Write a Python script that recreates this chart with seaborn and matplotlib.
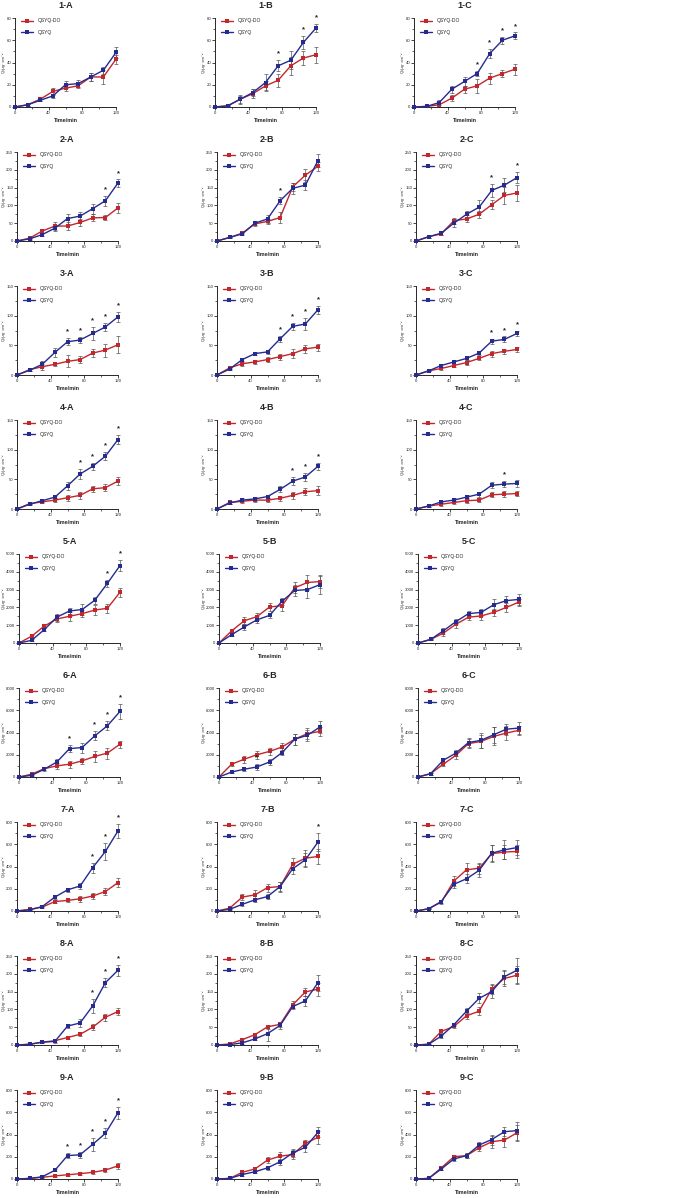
import matplotlib
matplotlib.use("Agg")
import matplotlib.pyplot as plt
import seaborn as sns
import pandas as pd
from matplotlib.ticker import MultipleLocator

# ---------------- data ----------------
time_min = [0, 15, 30, 45, 60, 75, 90, 105, 120]
series_names = ["QSYQ-DO", "QSYQ"]
row_ymax = [80, 250, 150, 150, 5000, 8000, 800, 250, 800]
row_ystep = [20, 50, 50, 50, 1000, 2000, 200, 50, 200]
col_letters = ["A", "B", "C"]

# 1
do_1A = [0, 2, 7, 14, 17, 19, 27, 27, 43];        do_1A_err = [0, 1, 2, 3, 3, 2, 4, 6, 4]
q_1A = [0, 2, 6, 10, 20, 21, 27, 33, 49];         q_1A_err = [0, 1, 1, 2, 3, 3, 4, 3, 5]
star_1A = []
do_1B = [0, 1, 7, 12, 19, 24, 37, 44, 47];        do_1B_err = [0, 0.5, 4, 4, 4, 6, 8, 6, 7]
q_1B = [0, 1, 7, 13, 22, 37, 42, 58, 71];         q_1B_err = [0, 0.5, 3, 3, 8, 5, 8, 6, 4]
star_1B = [75, 105, 120]
do_1C = [0, 0.5, 2, 8, 16, 19, 26, 30, 34];       do_1C_err = [0, 0.5, 2, 3, 3, 6, 5, 3, 5]
q_1C = [0, 0.5, 4, 16, 23, 30, 48, 60, 64];       q_1C_err = [0, 0.5, 2, 3, 4, 2, 4, 3, 3]
star_1C = [75, 90, 105, 120]
# 2
do_2A = [0, 8, 28, 42, 42, 52, 65, 66, 93];       do_2A_err = [0, 2, 5, 12, 10, 10, 10, 8, 15]
q_2A = [0, 6, 18, 36, 63, 70, 91, 113, 163];      q_2A_err = [0, 2, 4, 8, 14, 12, 14, 14, 10]
star_2A = [105, 120]
do_2B = [0, 10, 22, 48, 55, 66, 152, 185, 210];   do_2B_err = [0, 2, 3, 6, 8, 16, 12, 18, 12]
q_2B = [0, 10, 20, 50, 62, 113, 148, 157, 226];   q_2B_err = [0, 2, 3, 5, 12, 10, 15, 15, 18]
star_2B = [75]
do_2C = [0, 12, 20, 57, 62, 75, 102, 128, 135];   do_2C_err = [0, 3, 4, 8, 10, 10, 12, 25, 22]
q_2C = [0, 12, 22, 50, 75, 95, 142, 157, 178];    q_2C_err = [0, 3, 4, 12, 10, 20, 17, 20, 15]
star_2C = [90, 120]
# 3
do_3A = [0, 9, 14, 18, 23, 26, 37, 42, 51];       do_3A_err = [0, 2, 5, 3, 10, 6, 7, 11, 14]
q_3A = [0, 8, 18, 38, 56, 59, 70, 81, 98];        q_3A_err = [0, 2, 5, 7, 6, 5, 11, 7, 8]
star_3A = [60, 75, 90, 105, 120]
do_3B = [0, 12, 19, 22, 26, 31, 36, 44, 47];      do_3B_err = [0, 2, 3, 4, 4, 5, 8, 7, 6]
q_3B = [0, 10, 26, 36, 39, 61, 82, 86, 110];      q_3B_err = [0, 2, 2, 3, 3, 5, 6, 10, 7]
star_3B = [75, 90, 105, 120]
do_3C = [0, 7, 11, 16, 21, 28, 36, 40, 43];       do_3C_err = [0, 1, 3, 3, 4, 3, 5, 4, 4]
q_3C = [0, 7, 16, 22, 28, 37, 57, 60, 70];        q_3C_err = [0, 1, 3, 3, 3, 3, 4, 5, 4]
star_3C = [90, 105, 120]
# 4
do_4A = [0, 9, 12, 15, 19, 23, 34, 36, 47];       do_4A_err = [0, 1, 2, 3, 5, 6, 5, 6, 7]
q_4A = [0, 8, 14, 20, 39, 59, 72, 89, 117];       q_4A_err = [0, 1, 2, 2, 7, 9, 6, 7, 8]
star_4A = [75, 90, 105, 120]
do_4B = [0, 11, 13, 15, 15, 18, 23, 29, 31];      do_4B_err = [0, 2, 3, 3, 4, 4, 6, 6, 7]
q_4B = [0, 10, 15, 17, 21, 33, 47, 54, 72];       q_4B_err = [0, 2, 3, 3, 3, 5, 7, 7, 6]
star_4B = [90, 105, 120]
do_4C = [0, 5, 8, 11, 14, 15, 24, 25, 26];        do_4C_err = [0, 1, 3, 3, 4, 3, 4, 5, 4]
q_4C = [0, 5, 12, 15, 20, 25, 40, 42, 43];        q_4C_err = [0, 1, 2, 3, 3, 4, 5, 5, 6]
star_4C = [105]
# 5
do_5A = [0, 380, 950, 1350, 1500, 1650, 1850, 1950, 2850]
do_5A_err = [0, 60, 100, 150, 250, 200, 300, 250, 250]
q_5A = [0, 150, 750, 1450, 1800, 1880, 2400, 3350, 4350]
q_5A_err = [0, 50, 100, 200, 150, 300, 200, 200, 300]
star_5A = [105, 120]
do_5B = [0, 680, 1250, 1480, 2020, 2100, 3100, 3400, 3450]
do_5B_err = [0, 100, 200, 200, 200, 300, 300, 400, 350]
q_5B = [0, 470, 900, 1300, 1550, 2350, 2950, 3000, 3280]
q_5B_err = [0, 100, 150, 200, 150, 200, 300, 450, 500]
star_5B = []
do_5C = [0, 200, 550, 1050, 1450, 1520, 1720, 2000, 2300]
do_5C_err = [0, 50, 150, 200, 150, 200, 200, 250, 200]
q_5C = [0, 200, 680, 1200, 1650, 1720, 2150, 2380, 2450]
q_5C_err = [0, 50, 150, 150, 150, 200, 350, 250, 300]
star_5C = []
# 6
do_6A = [0, 250, 750, 1000, 1150, 1450, 1850, 2150, 2950]
do_6A_err = [0, 100, 150, 250, 300, 300, 500, 500, 300]
q_6A = [0, 150, 700, 1350, 2550, 2650, 3700, 4600, 5900]
q_6A_err = [0, 100, 150, 300, 300, 450, 400, 400, 700]
star_6A = [60, 90, 105, 120]
do_6B = [0, 1150, 1600, 2000, 2300, 2700, 3400, 3900, 4100]
do_6B_err = [0, 150, 300, 350, 300, 400, 500, 500, 400]
q_6B = [0, 450, 700, 900, 1350, 2200, 3400, 3750, 4500]
q_6B_err = [0, 100, 150, 250, 300, 200, 500, 500, 500]
star_6B = [45]
do_6C = [0, 300, 1150, 1950, 3000, 3200, 3650, 3950, 4200]
do_6C_err = [0, 100, 200, 300, 400, 600, 800, 600, 400]
q_6C = [0, 300, 1500, 2150, 3100, 3300, 3800, 4300, 4400]
q_6C_err = [0, 100, 200, 300, 400, 700, 700, 500, 500]
star_6C = []
# 7
do_7A = [0, 15, 35, 85, 95, 110, 135, 175, 255];      do_7A_err = [0, 5, 8, 15, 15, 25, 30, 30, 40]
q_7A = [0, 10, 40, 125, 190, 225, 390, 535, 720];     q_7A_err = [0, 5, 8, 15, 20, 30, 45, 75, 65]
star_7A = [90, 105, 120]
do_7B = [0, 25, 125, 145, 210, 220, 420, 475, 490];   do_7B_err = [0, 8, 25, 40, 35, 45, 55, 70, 70]
q_7B = [0, 15, 60, 100, 130, 220, 380, 460, 620];     q_7B_err = [0, 5, 15, 20, 25, 40, 45, 60, 80]
star_7B = [120]
do_7C = [0, 20, 80, 270, 370, 385, 515, 530, 535];    do_7C_err = [0, 5, 15, 45, 65, 50, 75, 65, 55]
q_7C = [0, 20, 85, 240, 290, 365, 520, 550, 570];     q_7C_err = [0, 5, 15, 30, 40, 60, 75, 85, 65]
star_7C = []
# 8
do_8A = [0, 2, 8, 12, 21, 30, 50, 78, 94];            do_8A_err = [0, 1, 2, 3, 5, 6, 8, 10, 10]
q_8A = [0, 2, 8, 10, 53, 62, 110, 175, 210];          q_8A_err = [0, 1, 2, 3, 5, 12, 20, 13, 15]
star_8A = [90, 105, 120]
do_8B = [0, 3, 15, 29, 51, 58, 113, 149, 157];        do_8B_err = [0, 1, 3, 5, 5, 8, 10, 12, 18]
q_8B = [0, 1, 6, 17, 32, 55, 108, 124, 175];          q_8B_err = [0, 1, 2, 4, 20, 10, 8, 15, 22]
star_8B = []
do_8C = [0, 2, 38, 52, 82, 95, 157, 187, 196];        do_8C_err = [0, 1, 5, 5, 8, 12, 15, 20, 25]
q_8C = [0, 2, 25, 57, 95, 131, 150, 192, 210];        q_8C_err = [0, 1, 4, 5, 8, 14, 18, 20, 35]
star_8C = []
# 9
do_9A = [0, 5, 15, 28, 38, 48, 60, 80, 118];          do_9A_err = [0, 3, 5, 8, 10, 15, 15, 20, 25]
q_9A = [0, 5, 20, 78, 210, 218, 312, 410, 595];       q_9A_err = [0, 3, 5, 10, 25, 25, 60, 45, 55]
star_9A = [60, 75, 90, 105, 120]
do_9B = [0, 5, 60, 90, 170, 205, 220, 320, 375];      do_9B_err = [0, 3, 10, 15, 25, 35, 40, 35, 60]
q_9B = [0, 5, 40, 65, 100, 155, 235, 285, 420];       q_9B_err = [0, 3, 10, 10, 15, 25, 35, 40, 45]
star_9B = []
do_9C = [0, 5, 100, 200, 210, 280, 335, 350, 415];    do_9C_err = [0, 3, 15, 20, 20, 25, 55, 60, 70]
q_9C = [0, 5, 90, 180, 210, 305, 355, 425, 435];      q_9C_err = [0, 3, 10, 15, 20, 30, 45, 40, 80]
star_9C = []

# ---------------- style ----------------
sns.set_style("ticks")
plt.rcParams["font.family"] = ["Liberation Sans", "DejaVu Sans"]

colors = {"QSYQ-DO": "#C1272D", "QSYQ": "#252B8F"}

W, H = 675, 1198
fig = plt.figure(figsize=(W / 100, H / 100), dpi=100)

col_left = [0, 200, 399]
row_left_off = [15, 17, 17, 17, 19, 19, 17, 17, 17]
ax_w, ax_h = 101, 89
row_top0, row_pitch = 18, 134

g = globals()
for r in range(9):
    for c in range(3):
        key = f"{r+1}{col_letters[c]}"
        do_v, do_e = g[f"do_{key}"], g[f"do_{key}_err"]
        q_v, q_e = g[f"q_{key}"], g[f"q_{key}_err"]
        stars = g[f"star_{key}"]
        top = row_top0 + r * row_pitch
        left = col_left[c] + row_left_off[r]
        ax = fig.add_axes([left / W, 1 - (top + ax_h) / H, ax_w / W, ax_h / H])
        df = pd.DataFrame({
            "time": time_min * 2,
            "value": list(do_v) + list(q_v),
            "err": list(do_e) + list(q_e),
            "group": ["QSYQ-DO"] * 9 + ["QSYQ"] * 9,
        })
        for name in series_names:
            sub = df[df["group"] == name]
            ax.errorbar(sub["time"], sub["value"], yerr=sub["err"], fmt="none",
                        ecolor="#555555", elinewidth=0.5, capsize=1.3, capthick=0.5,
                        zorder=2, clip_on=False)
        sns.lineplot(data=df, x="time", y="value", hue="group", hue_order=series_names,
                     palette=colors, marker="s", markersize=2.6, markeredgewidth=0,
                     linewidth=1.0, ax=ax, zorder=3, clip_on=False)
        for t in stars:
            i = time_min.index(t)
            ypos = q_v[i] + q_e[i] + row_ymax[r] * 0.03
            ax.text(t, ypos, "*", ha="center", va="bottom", fontsize=5.5,
                    fontweight="bold", color="#222222")
        ax.set_xlim(0, 120)
        ax.set_ylim(0, row_ymax[r])
        ax.xaxis.set_major_locator(MultipleLocator(40))
        ax.xaxis.set_minor_locator(MultipleLocator(20))
        ax.yaxis.set_major_locator(MultipleLocator(row_ystep[r]))
        ax.yaxis.set_minor_locator(MultipleLocator(row_ystep[r] / 2))
        ax.tick_params(which="major", labelsize=3.1, length=2, width=0.6, pad=0.8)
        ax.tick_params(which="minor", length=1.3, width=0.5)
        for s in ["left", "bottom"]:
            ax.spines[s].set_linewidth(0.7)
        sns.despine(ax=ax)
        ax.set_xlabel("Time/min", fontsize=4, fontweight="bold", labelpad=2)
        ax.set_ylabel("Q/μg· cm⁻²", fontsize=3.0)
        # right edge of the rotated label ~6.3 px from the panel's column edge
        ax.yaxis.set_label_coords(-(left - col_left[c] - 6.3) / ax_w, 0.5)
        ax.set_title(f"{r+1}-{col_letters[c]}", fontsize=6.5, fontweight="bold", pad=7)
        ax.legend(loc="upper left", bbox_to_anchor=(0.03, 1.03), frameon=False,
                  fontsize=3.6, handlelength=2.4, labelspacing=1.3,
                  handletextpad=1.0, borderaxespad=0.2)

fig.savefig("out.png", dpi=100)
